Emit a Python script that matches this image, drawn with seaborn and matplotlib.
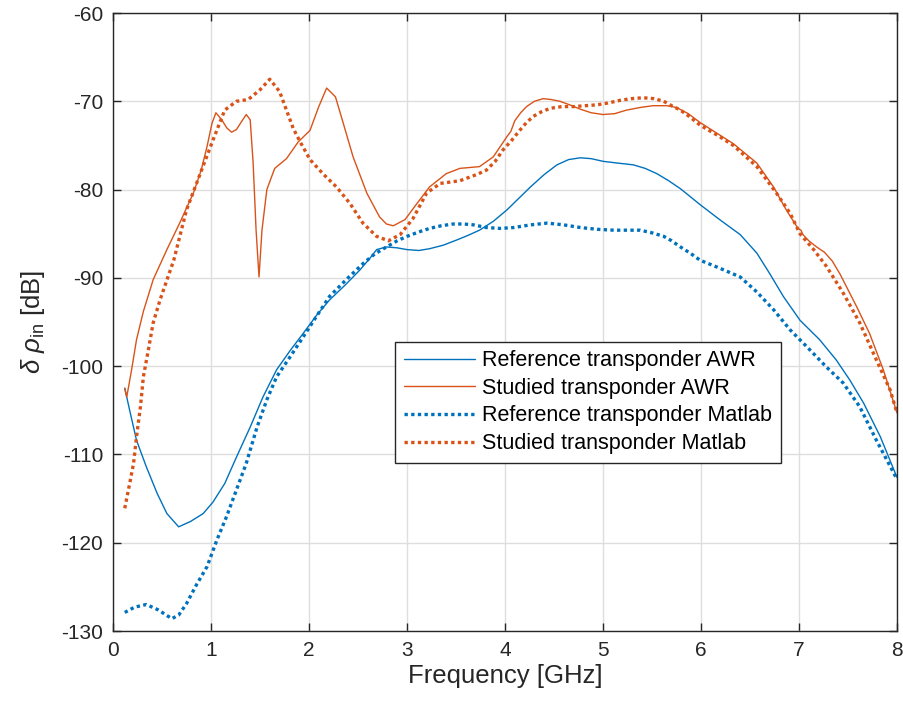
import numpy as np
import pandas as pd
import seaborn as sns
import matplotlib
matplotlib.use("Agg")
import matplotlib.pyplot as plt

# ---------------- data ----------------
freq_ref_awr = [0.12, 0.17, 0.24, 0.34, 0.45, 0.55, 0.67, 0.79, 0.92, 1.02, 1.14, 1.26,
                1.40, 1.53, 1.67, 1.81, 1.94, 2.08, 2.21, 2.37, 2.52, 2.62, 2.69, 2.79,
                2.90, 3.00, 3.12, 3.23, 3.37, 3.51, 3.62, 3.74, 3.88, 4.02, 4.14, 4.26,
                4.40, 4.53, 4.65, 4.77, 4.88, 5.00, 5.15, 5.31, 5.43, 5.55, 5.67, 5.79,
                5.89, 5.99, 6.19, 6.40, 6.57, 6.70, 6.84, 7.01, 7.21, 7.38, 7.52, 7.66,
                7.83, 8.00]
val_ref_awr = [-102.5, -105.0, -108.4, -111.4, -114.4, -116.7, -118.2, -117.6, -116.7,
               -115.4, -113.3, -110.3, -106.9, -103.5, -100.4, -98.2, -96.3, -94.2, -92.5,
               -90.8, -89.1, -87.8, -86.8, -86.5, -86.6, -86.8, -86.9, -86.7, -86.3,
               -85.7, -85.2, -84.6, -83.6, -82.3, -81.0, -79.7, -78.3, -77.2, -76.6,
               -76.4, -76.5, -76.8, -77.0, -77.2, -77.6, -78.2, -79.0, -79.9, -80.8,
               -81.7, -83.4, -85.1, -87.2, -89.5, -92.1, -94.8, -97.0, -99.3, -101.6,
               -104.2, -108.0, -112.6]

freq_stu_awr = [0.12, 0.14, 0.19, 0.24, 0.31, 0.41, 0.55, 0.68, 0.82, 0.90, 0.96, 1.01,
                1.05, 1.11, 1.16, 1.21, 1.26, 1.30, 1.36, 1.40, 1.43, 1.46, 1.49, 1.52,
                1.57, 1.65, 1.77, 1.89, 2.01, 2.10, 2.18, 2.27, 2.35, 2.45, 2.59, 2.72,
                2.79, 2.86, 2.98, 3.10, 3.23, 3.40, 3.54, 3.74, 3.88, 4.02, 4.06, 4.10,
                4.16, 4.22, 4.30, 4.39, 4.47, 4.56, 4.66, 4.77, 4.88, 5.00, 5.12, 5.24,
                5.38, 5.51, 5.65, 5.75, 5.87, 5.99, 6.16, 6.33, 6.57, 6.74, 6.87, 6.99,
                7.02, 7.04, 7.10, 7.18, 7.26, 7.34, 7.42, 7.59, 7.72, 7.86, 8.00]
val_stu_awr = [-102.5, -103.5, -100.4, -97.0, -93.8, -90.2, -86.8, -83.8, -80.4, -77.8,
               -75.1, -72.5, -71.3, -72.1, -73.0, -73.5, -73.2, -72.5, -71.5, -72.1,
               -77.0, -84.6, -89.9, -84.6, -80.0, -77.6, -76.5, -74.6, -73.3, -70.6,
               -68.5, -69.5, -72.5, -76.3, -80.4, -83.1, -83.9, -84.1, -83.4, -81.6,
               -79.7, -78.2, -77.6, -77.4, -76.3, -74.0, -73.4, -72.2, -71.3, -70.6,
               -70.0, -69.7, -69.8, -70.0, -70.4, -70.9, -71.3, -71.5, -71.4, -71.0,
               -70.7, -70.5, -70.5, -70.7, -71.4, -72.4, -73.6, -74.8, -77.0, -79.7,
               -82.3, -84.4, -84.6, -85.1, -85.8, -86.5, -87.1, -88.1, -89.6, -93.3,
               -96.3, -100.4, -105.3]

freq_ref_mat = [0.12, 0.22, 0.34, 0.46, 0.60, 0.67, 0.75, 0.85, 0.96, 1.06, 1.16, 1.26,
                1.36, 1.47, 1.57, 1.67, 1.81, 1.94, 2.08, 2.21, 2.38, 2.55, 2.67, 2.79,
                2.90, 3.00, 3.12, 3.23, 3.35, 3.47, 3.58, 3.68, 3.81, 3.95, 4.09, 4.26,
                4.43, 4.60, 4.77, 4.94, 5.11, 5.25, 5.38, 5.50, 5.62, 5.70, 5.79, 5.89,
                5.99, 6.19, 6.40, 6.57, 6.74, 6.91, 7.08, 7.28, 7.45, 7.62, 7.79, 8.00]
val_ref_mat = [-127.9, -127.3, -127.0, -127.6, -128.6, -128.2, -126.9, -124.8, -122.7,
               -119.7, -117.0, -114.0, -111.0, -106.9, -103.8, -101.2, -98.9, -96.7,
               -94.3, -92.1, -90.2, -88.4, -87.3, -86.5, -85.8, -85.3, -84.8, -84.4,
               -84.1, -83.9, -83.9, -84.0, -84.3, -84.4, -84.3, -84.0, -83.8, -84.0,
               -84.3, -84.5, -84.6, -84.6, -84.6, -84.9, -85.3, -85.8, -86.5, -87.2,
               -88.0, -88.9, -89.9, -91.6, -93.6, -95.9, -97.8, -100.1, -101.9, -104.6,
               -108.4, -112.8]

freq_stu_mat = [0.12, 0.17, 0.21, 0.24, 0.28, 0.31, 0.36, 0.41, 0.48, 0.62, 0.75, 0.89,
                1.02, 1.14, 1.26, 1.38, 1.50, 1.60, 1.70, 1.77, 1.84, 1.91, 2.01, 2.15,
                2.28, 2.42, 2.55, 2.69, 2.81, 2.93, 3.06, 3.20, 3.34, 3.54, 3.71, 3.81,
                3.90, 3.98, 4.07, 4.15, 4.22, 4.29, 4.37, 4.46, 4.58, 4.70, 4.82, 4.94,
                5.05, 5.17, 5.29, 5.41, 5.52, 5.62, 5.70, 5.79, 5.89, 5.99, 6.16, 6.33,
                6.57, 6.77, 6.91, 7.01, 7.15, 7.28, 7.45, 7.62, 7.79, 7.93, 8.00]
val_stu_mat = [-116.1, -113.3, -111.0, -108.0, -104.6, -101.2, -98.2, -95.1, -92.5, -88.0,
               -82.3, -78.2, -74.4, -71.0, -70.0, -69.8, -68.7, -67.5, -68.9, -71.0,
               -73.1, -74.6, -76.6, -78.3, -79.7, -81.6, -83.8, -85.3, -85.8, -85.1,
               -83.3, -80.4, -79.3, -79.0, -78.3, -77.8, -76.8, -75.5, -74.4, -73.3,
               -72.4, -71.7, -71.2, -70.8, -70.6, -70.6, -70.5, -70.4, -70.2, -69.9,
               -69.7, -69.6, -69.7, -70.0, -70.5, -71.0, -71.8, -72.7, -73.8, -75.0,
               -77.4, -80.4, -82.7, -85.0, -86.8, -88.7, -91.7, -95.1, -99.3, -102.7,
               -105.3]

labels = ["Reference transponder AWR", "Studied transponder AWR",
          "Reference transponder Matlab", "Studied transponder Matlab"]
x_ticks = [0, 1, 2, 3, 4, 5, 6, 7, 8]
y_ticks = [-130, -120, -110, -100, -90, -80, -70, -60]

# ---------------- style ----------------
sns.set_theme(style="whitegrid")
plt.rcParams['font.family'] = ['Liberation Sans', 'DejaVu Sans']
plt.rcParams['mathtext.fontset'] = 'custom'
plt.rcParams['mathtext.rm'] = 'Liberation Sans'
plt.rcParams['mathtext.it'] = 'Liberation Sans:italic'

BLUE = "#0072BD"
ORANGE = "#D95319"
AX = "#262626"

fig = plt.figure(figsize=(9.04, 7.08), dpi=100)
ax = fig.add_axes([113/904, 77/708, 784/904, 618/708])
ax.set_facecolor("white")

series = [
    (freq_ref_awr, val_ref_awr, labels[0], BLUE, "-", 1.0),
    (freq_stu_awr, val_stu_awr, labels[1], ORANGE, "-", 1.0),
    (freq_ref_mat, val_ref_mat, labels[2], BLUE, (0, (1, 1)), 2.4),
    (freq_stu_mat, val_stu_mat, labels[3], ORANGE, (0, (1, 1)), 2.4),
]
for fx, fy, lab, col, ls, lw in series:
    df = pd.DataFrame({"f": fx, "v": fy})
    sns.lineplot(data=df, x="f", y="v", ax=ax, color=col, linestyle=ls,
                 linewidth=lw, label=lab, sort=False, estimator=None)

ax.set_xlim(0, 8)
ax.set_ylim(-130, -60)
ax.set_xticks(x_ticks)
ax.set_yticks(y_ticks)
ax.set_xticklabels([str(t) for t in x_ticks])
ax.set_yticklabels([str(t) for t in y_ticks])
ax.grid(True, color="#dedede", linewidth=1.0)
for s in ax.spines.values():
    s.set_visible(True)
    s.set_color(AX)
    s.set_linewidth(1.0)
ax.tick_params(axis="both", which="both", direction="in", length=6, width=1.0,
               colors=AX, labelsize=15, top=True, right=True, bottom=True, left=True,
               labelcolor=AX, pad=7)
ax.set_xlabel("Frequency [GHz]", fontsize=18.5, color=AX, labelpad=3)
ax.set_ylabel(r"$\delta$ $\rho_{\mathrm{in}}$ [dB]", fontsize=18.5, color=AX, labelpad=10)

leg = ax.legend(loc="upper left", bbox_to_anchor=((395-113)/784, (631-341.5)/618),
                borderaxespad=0, fontsize=15.5,
                frameon=True, fancybox=False, framealpha=1, edgecolor=AX,
                handlelength=3.3, borderpad=0.4, labelspacing=0.31, handletextpad=0.35)
leg.get_frame().set_linewidth(1.0)
for t in leg.get_texts():
    t.set_color("black")

fig.savefig("out.png", dpi=100)
